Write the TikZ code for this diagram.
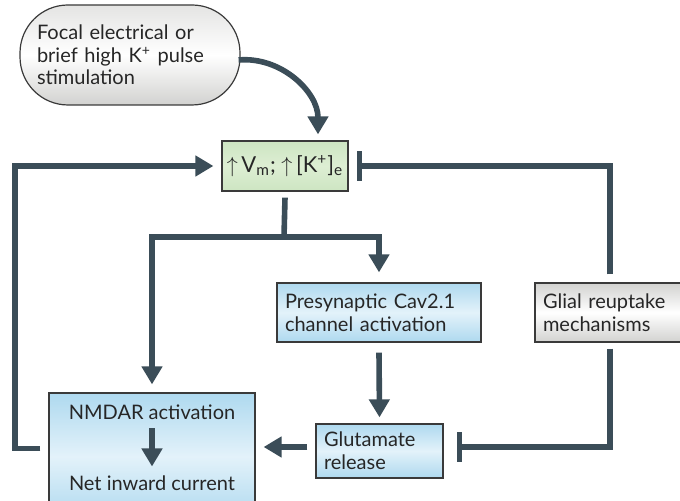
\documentclass[tikz,border=0pt]{standalone}
\usepackage{fontspec}
\setmainfont{Lato}
\usetikzlibrary{positioning, arrows.meta}
\definecolor{LineSlate}{HTML}{3B4D58}
\definecolor{BoxEdge}{HTML}{3A3A3A}
\definecolor{CellBlue}{HTML}{AED9EF}
\definecolor{CellBlueLight}{HTML}{E3F2FA}
\definecolor{LeafGreen}{HTML}{CDE5C2}
\definecolor{LeafGreenLight}{HTML}{DDEED3}
\definecolor{StoneGray}{HTML}{D2D2D0}

\begin{document}
\begin{tikzpicture}[
  x=0.5pt, y=0.5pt,
  every node/.style={font=\fontsize{10}{11.3}\selectfont, text=black!85},
  box/.style={rectangle, draw=BoxEdge, line width=0.6pt, align=left, inner xsep=4pt, inner ysep=2pt},
  bluebox/.style={box, top color=CellBlue, bottom color=CellBlue, middle color=CellBlueLight},
  graybox/.style={box, top color=StoneGray, bottom color=StoneGray, middle color=white},
  greenbox/.style={box, align=center, inner xsep=2pt, top color=LeafGreen, bottom color=LeafGreen, middle color=LeafGreenLight},
  pill/.style={rectangle, rounded corners=24pt, draw=BoxEdge, line width=0.6pt, top color=StoneGray!60, bottom color=StoneGray, middle color=white, text width=93pt, align=left, inner xsep=8.5pt},
  arr/.style={-{Triangle[length=9pt, width=10pt]}, line width=2.8pt, LineSlate},
  ln/.style={line width=2.8pt, LineSlate},
  inh/.style={-{Bar[width=15pt, line width=2.8pt]}, line width=2.8pt, LineSlate}
]
\useasboundingbox (0,0) rectangle (680,501);

\node[pill, minimum height=50pt] (stim) at (130,446) {Focal electrical or\\ brief high K\textsuperscript{+} pulse\\ stimulation};
\node[greenbox, minimum width=63pt, minimum height=25pt, font=\fontsize{11}{12}\selectfont] (vm) at (285,335) {$\uparrow$\,V\textsubscript{m}; $\uparrow$\,[K\textsuperscript{+}]\textsubscript{e}};
\node[bluebox, minimum width=102pt, minimum height=29.5pt, text width=94pt] (pre) at (379,188.5) {Presynaptic Cav2.1\\ channel activation};
\node[graybox, minimum width=75pt, minimum height=29.5pt, text width=67pt] (glial) at (610,188.5) {Glial reuptake\\ mechanisms};
\node[bluebox, minimum width=63.5pt, minimum height=27pt, text width=55.5pt] (glut) at (379.5,50) {Glutamate\\ release};
\node[bluebox, minimum width=103pt, minimum height=63.5pt] (nmdar) at (152,44.5) {};
\node (nmdaract) at (152,89) {NMDAR activation};
\node (netcur) at (152,18) {Net inward current};

% stimulation drives depolarisation
\draw[arr] ([xshift=-1pt, yshift=-2.5pt]stim.east) to[out=5, in=90] ([xshift=16.5pt, yshift=3pt]vm.north);

% split towards both pathways
\coordinate (fork) at (284,264);
\draw[ln] ([yshift=-3pt]vm.south) -- (fork);
\draw[arr] (fork) -| ([yshift=5pt]pre.north);
\draw[arr] (fork) -| ([yshift=4pt]nmdar.north);
\draw[arr] ([yshift=-5pt]pre.south) -- ([yshift=3pt]glut.north);
\draw[arr] ([xshift=-4pt, yshift=2pt]glut.west) -- ([xshift=4pt, yshift=2pt]nmdar.east |- glut.west);
\draw[arr, shorten <=1pt, shorten >=1pt] (nmdaract) -- (netcur);

% positive feedback loop
\coordinate (loopleft) at (15,335);
\draw[arr] ([shift={(-4pt,4pt)}]nmdar.west) -| (loopleft) -- ([xshift=-4pt]vm.west);

% glial clearance
\draw[inh] ([yshift=4pt]glial.north) |- ([xshift=4pt]vm.east);
\draw[inh] ([yshift=-3pt]glial.south) |- ([xshift=6.5pt, yshift=2pt]glut.east);
\end{tikzpicture}
\end{document}
